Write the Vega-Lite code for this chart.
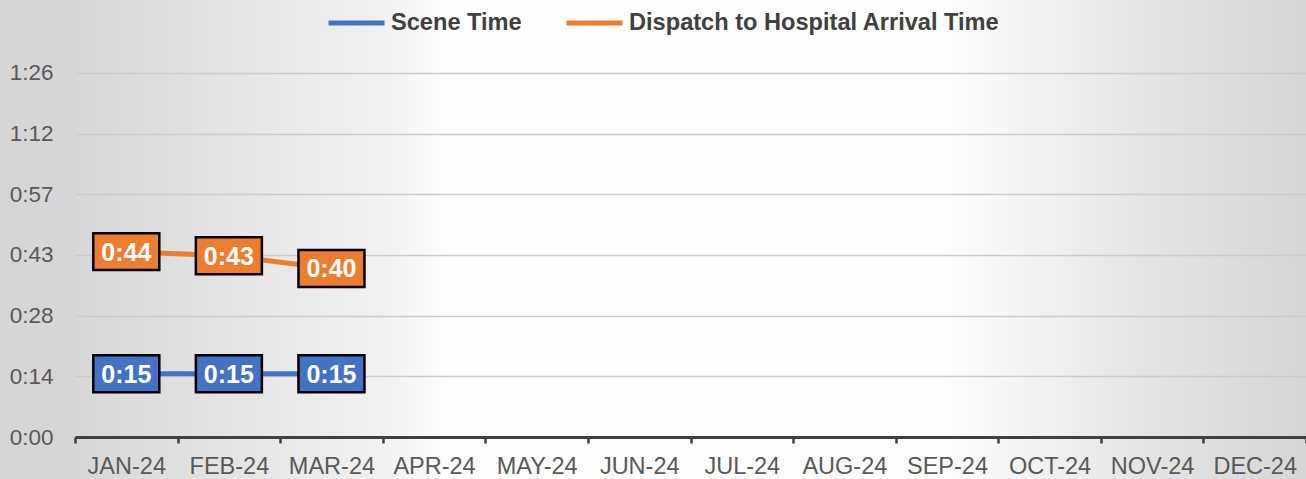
{
  "$schema": "https://vega.github.io/schema/vega-lite/v6.json",
  "autosize": {"type": "none"},
  "padding": {"left": 75, "top": 0, "right": 0, "bottom": 0},
  "width": 1231,
  "height": 479,
  "background": "#d6d6d6",
  "config": {
    "font": "Liberation Sans",
    "view": {
      "stroke": null,
      "fill": {
        "gradient": "linear", "x1": 0, "y1": 0, "x2": 1, "y2": 0,
        "stops": [
          {"offset": 0, "color": "#d7d7d7"},
          {"offset": 0.25, "color": "#f1f1f1"},
          {"offset": 0.3, "color": "#fdfdfd"},
          {"offset": 0.71, "color": "#fdfdfd"},
          {"offset": 0.87, "color": "#e4e4e4"},
          {"offset": 1, "color": "#d6d6d6"}
        ]
      }
    }
  },
  "data": {
    "values": [
      {"month": "JAN-24", "series": "Scene Time", "minutes": 15, "label": "0:15"},
      {"month": "FEB-24", "series": "Scene Time", "minutes": 15, "label": "0:15"},
      {"month": "MAR-24", "series": "Scene Time", "minutes": 15, "label": "0:15"},
      {"month": "JAN-24", "series": "Dispatch to Hospital Arrival Time", "minutes": 44, "label": "0:44"},
      {"month": "FEB-24", "series": "Dispatch to Hospital Arrival Time", "minutes": 43, "label": "0:43"},
      {"month": "MAR-24", "series": "Dispatch to Hospital Arrival Time", "minutes": 40, "label": "0:40"}
    ]
  },
  "encoding": {
    "x": {
      "field": "month", "type": "ordinal", "bandPosition": 0.5,
      "scale": {
        "type": "band", "paddingInner": 0, "paddingOuter": 0,
        "domain": ["JAN-24","FEB-24","MAR-24","APR-24","MAY-24","JUN-24","JUL-24","AUG-24","SEP-24","OCT-24","NOV-24","DEC-24"]
      },
      "axis": {
        "title": null, "offset": -42, "labelAngle": 0,
        "tickBand": "extent", "grid": false,
        "domainColor": "#404040", "domainWidth": 3,
        "tickColor": "#404040", "tickWidth": 2.5, "tickSize": 6,
        "labelFontSize": 23.5, "labelColor": "#595959", "labelPadding": 11
      }
    },
    "y": {
      "field": "minutes", "type": "quantitative",
      "scale": {"domain": [-9.969, 103.727], "nice": false, "zero": false},
      "axis": {
        "title": null, "values": [0, 14.4, 28.8, 43.2, 57.6, 72, 86.4],
        "labelExpr": "floor(datum.value/60) + ':' + (floor(datum.value%60) < 10 ? '0' : '') + floor(datum.value%60)",
        "domain": false, "ticks": false, "tickSize": 0, "labelPadding": 22,
        "labelFontSize": 22.5, "labelColor": "#595959",
        "gridColor": "#cccccc", "gridWidth": 1.5
      }
    }
  },
  "layer": [
    {
      "mark": {"type": "line", "strokeWidth": 5},
      "encoding": {
        "color": {
          "field": "series", "type": "nominal",
          "scale": {"domain": ["Scene Time", "Dispatch to Hospital Arrival Time"], "range": ["#4472C4", "#ED7D31"]},
          "legend": {
            "title": null, "orient": "none", "direction": "horizontal",
            "legendX": 251, "legendY": -8,
            "symbolType": "stroke", "symbolStrokeWidth": 5, "symbolSize": 3136,
            "labelFontSize": 23.6, "labelFontWeight": "bold", "labelColor": "#404040",
            "labelLimit": 600,
            "labelOffset": 4, "columnPadding": 34, "padding": 0
          }
        }
      }
    },
    {
      "mark": {
        "type": "point", "filled": true, "opacity": 1,
        "shape": "M-1,-0.56H1V0.56H-1Z", "size": 4356,
        "stroke": "#000000", "strokeWidth": 2.5
      },
      "encoding": {
        "fill": {
          "field": "series", "type": "nominal",
          "scale": {"domain": ["Scene Time", "Dispatch to Hospital Arrival Time"], "range": ["#4472C4", "#ED7D31"]},
          "legend": null
        }
      }
    },
    {
      "mark": {"type": "text", "color": "#ffffff", "fontSize": 25, "fontWeight": "bold", "align": "center", "baseline": "middle", "dy": 1},
      "encoding": {"text": {"field": "label"}}
    }
  ]
}
